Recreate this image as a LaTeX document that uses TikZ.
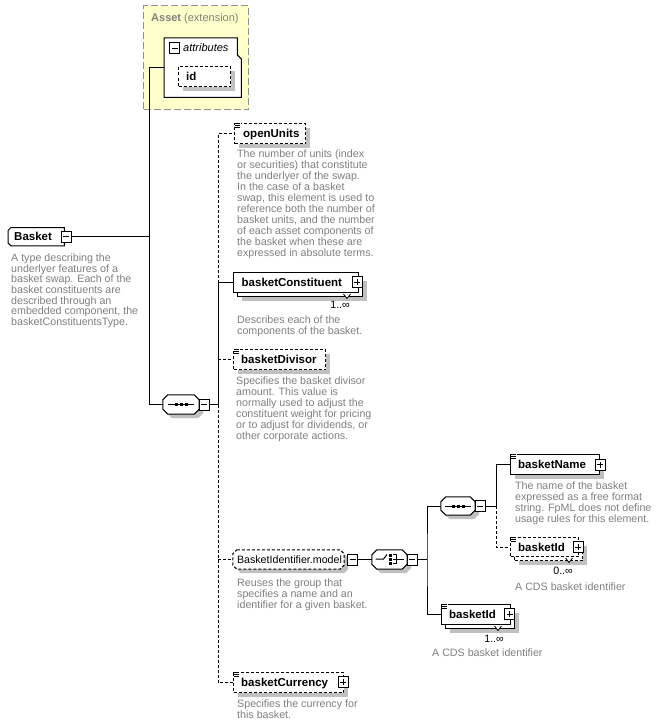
\documentclass[tikz,border=0pt]{standalone}
\usepackage{fontspec}
\setmainfont{Liberation Sans}
\usetikzlibrary{shadows,calc}
\definecolor{descgray}{HTML}{808080}
\definecolor{shadowgray}{HTML}{C0C0C0}
\definecolor{assetfill}{HTML}{FFFFCC}
\definecolor{assetborder}{HTML}{909090}

\tikzset{
 conn/.style={line width=1pt},
 optconn/.style={line width=1pt, dash pattern=on 3pt off 2pt},
 boxshadow/.style={drop shadow={shadow xshift=4pt, shadow yshift=-4pt, fill=shadowgray, opacity=1}},
 elembox/.style={draw, fill=white, line width=1pt, rectangle, inner sep=0pt, anchor=north west},
 optbox/.style={elembox, dash pattern=on 3pt off 2pt},
 elname/.style={font=\bfseries\fontsize{11.5}{13}\selectfont, inner sep=0pt, anchor=west, text height=8pt, text depth=0pt},
 grpname/.style={font=\fontsize{10.67}{13}\selectfont, inner sep=0pt, anchor=west, text height=7.6pt, text depth=0pt},
 desc/.style={font=\fontsize{10.67}{11}\selectfont, text=descgray, align=left, inner sep=0pt, anchor=north west},
 mult/.style={font=\fontsize{10.67}{13}\selectfont, inner sep=0pt, anchor=east, text height=7pt, text depth=0pt},
 pmbox/.style={draw, fill=white, line width=1pt, minimum width=10pt, minimum height=11pt, inner sep=0pt},
 pmsign/.style={line width=1pt},
 octpath/.style={draw, fill=white, line width=1pt},
}

\newcommand\minusicon[3]{%
  \node[pmbox] (#1) at (#2,#3) {};
  \draw[pmsign] ([xshift=-3pt]#1.center) -- ([xshift=3pt]#1.center);}
\newcommand\plusicon[3]{%
  \node[pmbox] (#1) at (#2,#3) {};
  \draw[pmsign] ([xshift=-3pt]#1.center) -- ([xshift=3pt]#1.center)
    ([yshift=-3pt]#1.center) -- ([yshift=3pt]#1.center);}
\newcommand\simpleicon[1]{%
  \fill[white] ([xshift=0.5pt,yshift=0.5pt]#1.north west) rectangle ([xshift=6.5pt,yshift=-5pt]#1.north west);
  \draw[line width=0.7pt] ([xshift=1pt,yshift=-0.5pt]#1.north west) -- ++(5pt,0pt)
    ([xshift=1pt,yshift=-2.3pt]#1.north west) -- ++(5pt,0pt)
    ([xshift=1pt,yshift=-4.1pt]#1.north west) -- ++(5pt,0pt);}
% name, cx, cy, width, height, chamfer, extra style
\newcommand\octnode[7]{%
  \node[inner sep=0pt, minimum width=#4pt, minimum height=#5pt] (#1) at (#2,#3) {};
  \path[octpath,#7] ([xshift=#6pt]#1.north west) -- ([xshift=-#6pt]#1.north east)
    -- ([yshift=-#6pt]#1.north east) -- ([yshift=#6pt]#1.south east)
    -- ([xshift=-#6pt]#1.south east) -- ([xshift=#6pt]#1.south west)
    -- ([yshift=#6pt]#1.south west) -- ([yshift=-#6pt]#1.north west) -- cycle;}
\newcommand\seqicon[1]{%
  \draw[line width=1pt] ([xshift=-13pt]#1.center) -- ([xshift=13pt]#1.center);
  \foreach \dx in {-5,0,5}{\fill ([xshift=\dx pt-1.5pt,yshift=-1.5pt]#1.center) rectangle ++(3pt,3pt);}}
\newcommand\notchmark[2]{%
  \draw[line width=0.8pt, fill=white] (#1-3.5,#2-2) -- (#1,#2+2.5) -- (#1+3.5,#2-2);}

\begin{document}
\begin{tikzpicture}[x=1pt,y=-1pt]
\useasboundingbox[fill=white] (0,0) rectangle (659,725);

% ---------------- Asset extension
\node[draw=assetborder, fill=assetfill, line width=1.2pt, dash pattern=on 7pt off 3pt,
      minimum width=105pt, minimum height=104pt, inner sep=0pt, anchor=north west] (asset) at (143,5) {};
\node[inner sep=0pt, anchor=west, text=descgray, font=\fontsize{11}{13}\selectfont, text height=8pt, text depth=0pt]
      (assetL) at (151,18) {\textbf{Asset} (extension)};
\node[inner sep=0pt, minimum width=77pt, minimum height=59pt, anchor=north west] (attrs) at (164,38) {};
\draw[line width=1pt, fill=white] (attrs.north west) -- ([xshift=-4pt]attrs.north east)
   -- ([xshift=-4pt,yshift=-17pt]attrs.north east) -- ([yshift=-21pt]attrs.north east)
   -- (attrs.south east) -- (attrs.south west) -- cycle;
\minusicon{attrsM}{174.5}{48.5}
\node[inner sep=0pt, anchor=west, font=\itshape\fontsize{11}{13}\selectfont, text height=8pt, text depth=0pt]
      (attrsL) at (183,48) {attributes};
\node[optbox, boxshadow, minimum width=52pt, minimum height=20pt] (idbox) at (178,66) {};
\node[elname] (idL) at ([xshift=8pt]idbox.west) {id};

% ---------------- Basket
\node[inner sep=0pt, minimum width=56pt, minimum height=18pt, anchor=north west] (Basket) at (8,227.5) {};
\draw[line width=1pt, fill=white] ([xshift=3pt]Basket.north west) -- (Basket.north east)
   -- (Basket.south east) -- ([xshift=3pt]Basket.south west)
   -- ([yshift=3pt]Basket.south west) -- ([yshift=-3pt]Basket.north west) -- cycle;
\node[elname] (BasketL) at (14,236.5) {Basket};
\minusicon{BasketM}{66}{236.5}
\node[desc, font=\fontsize{10.67}{10.7}\selectfont] (BasketD) at (11,253.5) {A type describing the\\
underlyer features of a\\basket swap. Each of the\\basket constituents are\\described through an\\
embedded component, the\\basketConstituentsType.};

% ---------------- top-level sequence
\octnode{seq1}{181}{404.5}{36}{19}{5}{boxshadow}
\seqicon{seq1}
\minusicon{seq1M}{204}{404.5}
\coordinate (trunk) at (149,236.5);
\draw[conn] (BasketM.east) -- (trunk);
\draw[conn] (attrs.west) -| (seq1.west -| trunk) -- (seq1.west);

% ---------------- openUnits
\node[optbox, boxshadow, minimum width=71pt, minimum height=20pt] (openUnits) at (234,123) {};
\simpleicon{openUnits}
\node[elname] (openUnitsL) at ([xshift=9pt]openUnits.west) {openUnits};
\node[desc] (openUnitsD) at (237,149.5) {The number of units (index\\or securities) that constitute\\
the underlyer of the swap.\\In the case of a basket\\swap, this element is used to\\
reference both the number of\\basket units, and the number\\of each asset components of\\
the basket when these are\\expressed in absolute terms.};

% ---------------- basketConstituent
\node[elembox, boxshadow, minimum width=125pt, minimum height=20pt] (basketConstituentB) at (237,276) {};
\node[elembox, minimum width=125pt, minimum height=20pt] (basketConstituent) at (233,272) {};
\node[elname] (basketConstituentL) at ([xshift=8.5pt]basketConstituent.west) {basketConstituent};
\plusicon{basketConstituentP}{357}{282}
\notchmark{347}{296}
\node[mult] (basketConstituentM) at (350,305) {1..∞};
\node[desc] (basketConstituentD) at (237,316) {Describes each of the\\components of the basket.};

% ---------------- basketDivisor
\node[optbox, boxshadow, minimum width=92pt, minimum height=20pt] (basketDivisor) at (233,349) {};
\simpleicon{basketDivisor}
\node[elname] (basketDivisorL) at ([xshift=8pt]basketDivisor.west) {basketDivisor};
\node[desc] (basketDivisorD) at (236,377) {Specifies the basket divisor\\amount. This value is\\
normally used to adjust the\\constituent weight for pricing\\or to adjust for dividends, or\\other corporate actions.};

% ---------------- BasketIdentifier.model
\octnode{BasketIdentifier}{288.5}{559.5}{111}{19}{4}{boxshadow, dash pattern=on 3pt off 2pt}
\node[grpname] (BasketIdentifierL) at ([xshift=4pt]BasketIdentifier.west) {BasketIdentifier.model};
\minusicon{BasketIdentifierM}{352.5}{559.5}
\node[desc] (BasketIdentifierD) at (237,578.5) {Reuses the group that\\specifies a name and an\\identifier for a given basket.};

% ---------------- basketCurrency
\node[optbox, boxshadow, minimum width=110pt, minimum height=20pt] (basketCurrency) at (233,672) {};
\simpleicon{basketCurrency}
\node[elname] (basketCurrencyL) at ([xshift=8pt]basketCurrency.west) {basketCurrency};
\plusicon{basketCurrencyP}{343}{682}
\node[desc] (basketCurrencyD) at (237,699.5) {Specifies the currency for\\this basket.};

% ---------------- bus 1
\coordinate (bus1) at (218,404.5);
\draw[conn] (seq1M.east) -- (bus1);
\draw[conn] (bus1) -- (basketConstituent.west -| bus1) -- (basketConstituent.west);
\draw[optconn] (basketConstituent.west -| bus1) -- (openUnits.west -| bus1) -- (openUnits.west);
\draw[optconn] (basketDivisor.west -| bus1) -- (basketDivisor.west);
\draw[optconn] (bus1) -- (basketCurrency.west -| bus1) -- (basketCurrency.west);
\draw[optconn] (BasketIdentifier.west -| bus1) -- (BasketIdentifier.west);

% ---------------- choice
\octnode{choice}{389.5}{559.5}{35}{19}{5}{boxshadow}
\draw[line width=1pt] ($(choice.center)+(-14,-0.5)$) -- ($(choice.center)+(-6,-0.5)$) -- ($(choice.center)+(-2.5,-5)$);
\foreach \dy in {-5.5,-1.5,2.5}{\fill ($(choice.center)+(-1,\dy)$) rectangle ++(3pt,-3pt);}
\draw[line width=1pt] ($(choice.center)+(3,-5)$) -- ($(choice.center)+(7,-5)$) -- ($(choice.center)+(7,4)$) -- ($(choice.center)+(3,4)$)
   ($(choice.center)+(3,-0.5)$) -- ($(choice.center)+(14,-0.5)$);
\minusicon{choiceM}{412}{559.5}
\draw[conn] (BasketIdentifierM.east) -- (choice.west);

% ---------------- inner sequence
\octnode{seq2}{458}{506}{34}{18}{5}{boxshadow}
\seqicon{seq2}
\minusicon{seq2M}{480}{506}

% ---------------- basketName
\node[elembox, boxshadow, minimum width=89pt, minimum height=20pt] (basketName) at (510,454) {};
\simpleicon{basketName}
\node[elname] (basketNameL) at ([xshift=8pt]basketName.west) {basketName};
\plusicon{basketNameP}{600}{464.5}
\node[desc] (basketNameD) at (515,481.5) {The name of the basket\\expressed as a free format\\
string. FpML does not define\\usage rules for this element.};

% ---------------- basketId (optional)
\node[optbox, boxshadow, minimum width=68pt, minimum height=19pt] (basketIdOB) at (514,541) {};
\node[optbox, minimum width=68pt, minimum height=19pt] (basketIdO) at (510,537) {};
\simpleicon{basketIdO}
\node[elname] (basketIdOL) at ([xshift=8pt]basketIdO.west) {basketId};
\plusicon{basketIdOP}{578}{547}
\notchmark{569}{560}
\node[mult] (basketIdOM) at (573,571) {0..∞};
\node[desc] (basketIdOD) at (515,582.5) {A CDS basket identifier};

% ---------------- basketId (required)
\node[elembox, boxshadow, minimum width=69pt, minimum height=20pt] (basketIdRB) at (445,608) {};
\node[elembox, minimum width=69pt, minimum height=20pt] (basketIdR) at (441,604) {};
\simpleicon{basketIdR}
\node[elname] (basketIdRL) at ([xshift=8pt]basketIdR.west) {basketId};
\plusicon{basketIdRP}{509.5}{614}
\notchmark{498}{628}
\node[mult] (basketIdRM) at (504,639) {1..∞};
\node[desc] (basketIdRD) at (432,648.5) {A CDS basket identifier};

% ---------------- buses 2 and 3
\coordinate (bus2) at (427,559.5);
\draw[conn] (choiceM.east) -- (bus2);
\draw[conn] (seq2.west) -| (bus2) |- (basketIdR.west);
\coordinate (bus3) at (496,506);
\draw[conn] (seq2M.east) -- (bus3) |- (basketName.west);
\draw[optconn] (bus3) |- (basketIdO.west);

\end{tikzpicture}
\end{document}
